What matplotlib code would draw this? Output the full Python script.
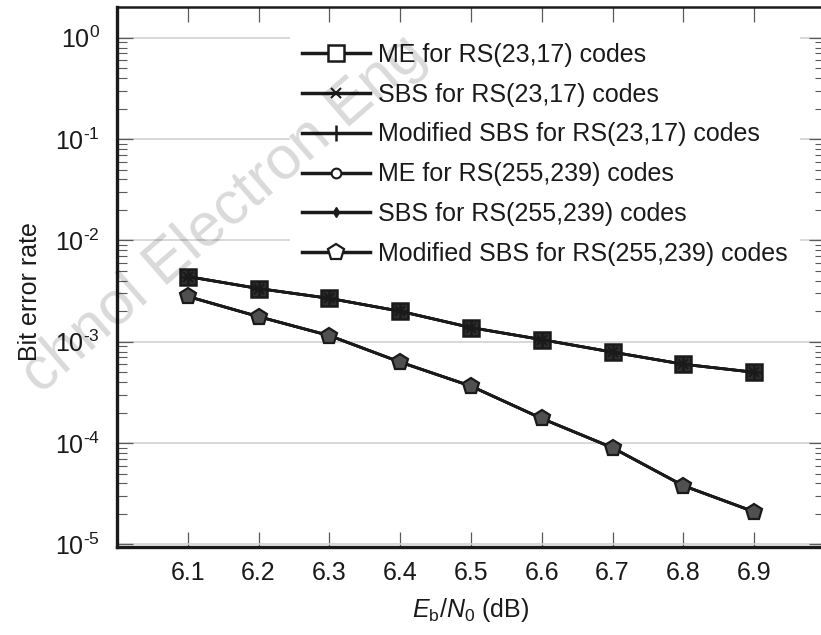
#!/usr/bin/env python3
"""BER versus Eb/N0 for ME, SBS and modified SBS decoding of two RS codes."""

import math

import matplotlib as mpl

mpl.use("Agg")
import matplotlib.pyplot as plt
from matplotlib.ticker import FixedFormatter, FixedLocator, FuncFormatter, LogLocator, NullFormatter

EBN0_DB = [6.1, 6.2, 6.3, 6.4, 6.5, 6.6, 6.7, 6.8, 6.9]

# RS(23,17): ME, SBS and modified SBS all lie on the same curve
BER_RS23 = [4.4e-3, 3.35e-3, 2.68e-3, 2.0e-3, 1.38e-3, 1.05e-3, 7.9e-4, 6.0e-4, 5.0e-4]
# RS(255,239): the three decoders again coincide
BER_RS255 = [2.8e-3, 1.77e-3, 1.15e-3, 6.3e-4, 3.65e-4, 1.75e-4, 9.0e-5, 3.8e-5, 2.1e-5]

SERIES_LABELS = [
    "ME for RS(23,17) codes",
    "SBS for RS(23,17) codes",
    "Modified SBS for RS(23,17) codes",
    "ME for RS(255,239) codes",
    "SBS for RS(255,239) codes",
    "Modified SBS for RS(255,239) codes",
]
XLABEL = r"$E_\mathrm{b}/N_\mathrm{0}$ (dB)"
YLABEL = "Bit error rate"
WATERMARK = "chnol Electron Eng"

INK = "#1a1a1a"
TICK = "#5a5a5a"


def configure_matplotlib() -> None:
    mpl.rcParams.update(
        {
            "font.family": ["Liberation Sans", "DejaVu Sans"],
            "font.size": 18,
            "mathtext.fontset": "custom",
            "mathtext.rm": "Liberation Sans",
            "mathtext.it": "Liberation Sans:italic",
            "mathtext.bf": "Liberation Sans:bold",
            "text.color": INK,
            "axes.labelcolor": INK,
            "xtick.color": TICK,
            "ytick.color": TICK,
            "xtick.labelcolor": INK,
            "ytick.labelcolor": INK,
        }
    )


def decade_label(value: float, _pos: int) -> str:
    """Label decades as 10^0, 10^-1, ... with a short hyphen like the original."""
    exp = round(math.log10(value))
    if exp == 0:
        return r"$10^{0}$"
    return r"$10^{\text{-%d}}$" % abs(exp)


def main() -> None:
    configure_matplotlib()
    fig = plt.figure(figsize=(8.21, 6.35), dpi=100)
    ax = fig.add_axes([0.1424, 0.1386, 0.8624, 0.8496])

    styles = [
        dict(marker="s", ms=11.5, mfc="white", mew=1.8),
        dict(marker="x", ms=7, mew=1.5),
        dict(marker="+", ms=12, mew=1.8),
        dict(marker="o", ms=7, mfc="white", mew=1.5),
        dict(marker="d", ms=5, mew=1.0),
        dict(marker="p", ms=12, mfc="white", mew=1.6),
    ]
    curves = [BER_RS23, BER_RS23, BER_RS23, BER_RS255, BER_RS255, BER_RS255]
    lines = []
    for label, ber, st in zip(SERIES_LABELS, curves, styles):
        (ln,) = ax.plot(EBN0_DB, ber, color=INK, mec=INK, lw=2.0, label=label, zorder=3, **st)
        lines.append(ln)

    ax.set_yscale("log")
    ax.set_xlim(6.0, 7.0)
    ax.set_ylim(10 ** -5.025, 10 ** 0.298)
    ax.xaxis.set_major_locator(FixedLocator(EBN0_DB))
    ax.xaxis.set_major_formatter(FixedFormatter([f"{v:.1f}" for v in EBN0_DB]))
    ax.yaxis.set_major_locator(LogLocator(base=10, numticks=10))
    ax.yaxis.set_major_formatter(FuncFormatter(decade_label))
    ax.yaxis.set_minor_locator(LogLocator(base=10, subs=range(2, 10), numticks=20))
    ax.yaxis.set_minor_formatter(NullFormatter())

    ax.tick_params(axis="x", which="major", direction="in", top=True, length=11, width=0.9, pad=10)
    ax.tick_params(axis="y", which="major", direction="in", right=True, length=11.5, width=0.9, pad=12)
    ax.tick_params(axis="y", which="minor", direction="in", right=True, length=7, width=0.8)

    for side in ("left", "bottom", "top"):
        ax.spines[side].set_color(INK)
    ax.spines["left"].set_linewidth(2.4)
    ax.spines["bottom"].set_linewidth(2.4)
    ax.spines["top"].set_linewidth(1.8)
    ax.spines["right"].set_visible(False)

    ax.grid(True, axis="y", which="major", color="#d2d2d2", linewidth=1.2)
    ax.set_axisbelow(True)

    ax.set_xlabel(XLABEL, labelpad=8)
    ax.set_ylabel(YLABEL)
    ax.yaxis.set_label_coords(-0.106, 0.4727)

    leg = ax.legend(
        loc="upper left",
        bbox_to_anchor=(290 / 821, 1 - 31 / 635),
        bbox_transform=fig.transFigure,
        borderaxespad=0,
        borderpad=0.48,
        frameon=True,
        fancybox=False,
        edgecolor="none",
        facecolor="white",
        framealpha=1.0,
        handlelength=2.72,
        handletextpad=0.32,
        labelspacing=0.63,
        fontsize=18,
    )
    leg.set_zorder(5)
    for line in leg.get_lines():
        line.set_linewidth(2.5)

    # overlapping markers in the plot read as dark blobs, legend keeps them open
    lines[0].set_markerfacecolor("#2e2e2e")
    lines[3].set_markerfacecolor("none")
    lines[5].set_markerfacecolor("#505050")

    # faint journal watermark running diagonally across the upper left
    fig.text(
        40 / 821,
        1 - 395 / 635,
        WATERMARK,
        rotation=41,
        rotation_mode="anchor",
        ha="left",
        va="baseline",
        fontsize=44,
        color="black",
        alpha=0.15,
        zorder=10,
    )

    fig.savefig("out.png", dpi=100)
    plt.close(fig)


if __name__ == "__main__":
    main()
